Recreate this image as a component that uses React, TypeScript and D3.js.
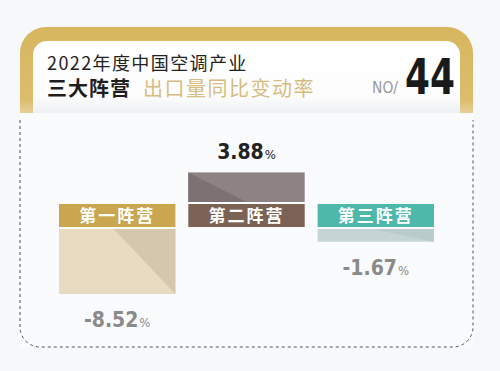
import React from 'react';
import * as d3 from 'd3';

const categories = ['第一阵营', '第二阵营', '第三阵营'];
const values = [-8.52, 3.88, -1.67];
const valueTexts = ['-8.52', '3.88', '-1.67'];
const titleLine1 = '2022年度中国空调产业';
const titleBold = '三大阵营';
const titleGold = '出口量同比变动率';
const issuePrefix = 'NO/';
const issueNo = '44';

const labelColors = ['#c9a64f', '#7a6255', '#4eb8aa'];
const barColors = ['#e8dbc1', '#8e8284', '#c5d5d6'];
const shadeColors = ['#d4c7ad', '#7e7173', '#bacbcc'];
const valueColors = ['#8a8a8a', '#222222', '#8a8a8a'];

const W = 500;
const H = 371;

function topRounded(x0: number, y0: number, x1: number, y1: number, r: number) {
  const p = d3.path();
  p.moveTo(x0, y1);
  p.lineTo(x0, y0 + r);
  p.arcTo(x0, y0, x0 + r, y0, r);
  p.lineTo(x1 - r, y0);
  p.arcTo(x1, y0, x1, y0 + r, r);
  p.lineTo(x1, y1);
  p.closePath();
  return p.toString();
}

function bottomRoundedOpen(x0: number, y0: number, x1: number, y1: number, r: number) {
  const p = d3.path();
  p.moveTo(x0, y0);
  p.lineTo(x0, y1 - r);
  p.arcTo(x0, y1, x0 + r, y1, r);
  p.lineTo(x1 - r, y1);
  p.arcTo(x1, y1, x1, y1 - r, r);
  p.lineTo(x1, y0);
  return p.toString();
}

export default function App() {
  const x = d3.scaleBand<string>().domain(categories).range([59, 434]).paddingInner(0.1);
  const h = d3.scaleLinear().domain([0, 8.52]).range([0, 65]);
  const labelTop = 204;
  const labelH = 23;
  const posBase = 202;
  const negBase = 229;
  const bw = x.bandwidth();

  const numFont = "'DejaVu Sans Condensed', 'DejaVu Sans', sans-serif";
  const cjk = "'Noto Sans CJK SC', sans-serif";

  return (
    <div style={{ position: 'fixed', left: 0, top: 0 }}>
      <svg width={W} height={H} style={{ display: 'block' }}>
        <defs>
          <linearGradient id="gold" x1="0" y1="0" x2="0" y2="1">
            <stop offset="0" stopColor="#d7b65f" />
            <stop offset="0.85" stopColor="#dbbd6c" />
            <stop offset="1" stopColor="#e6d09a" />
          </linearGradient>
          <linearGradient id="card" x1="0" y1="0" x2="0" y2="1">
            <stop offset="0" stopColor="#ffffff" />
            <stop offset="0.75" stopColor="#fdfdfd" />
            <stop offset="1" stopColor="#eef0f3" />
          </linearGradient>
        </defs>
        <rect x={0} y={0} width={W} height={H} fill="#f7f8fa" />
        <rect x={20} y={113} width={453} height={234} fill="#fafbfc" />
        {/* gold frame */}
        <path d={topRounded(20, 27, 473, 113, 26)} fill="url(#gold)" />
        <path d={topRounded(33, 41, 460, 113, 14)} fill="url(#card)" />
        {/* dashed panel border */}
        <path
          d={bottomRoundedOpen(20, 120, 473, 347, 20)}
          fill="none"
          stroke="#555"
          strokeWidth={1}
          strokeDasharray="3 3"
        />
        {/* title */}
        <text x={47} y={70} fontFamily={cjk} fontSize={18} letterSpacing={1.4} fill="#222">
          {titleLine1}
        </text>
        <text x={47} y={96} fontFamily={cjk} fontSize={20} fontWeight={700} letterSpacing={1} fill="#1e1e1e">
          {titleBold}
        </text>
        <text x={143} y={96} fontFamily={cjk} fontSize={20} letterSpacing={1.5} fill="#d6bc80">
          {titleGold}
        </text>
        <text x={372} y={93} fontFamily={numFont} fontSize={15} fill="#9a9a9a" textLength={26} lengthAdjust="spacingAndGlyphs">
          {issuePrefix}
        </text>
        <text x={405} y={94} fontFamily={numFont} fontSize={49} fontWeight={700} fill="#1a1a1a" textLength={50} lengthAdjust="spacingAndGlyphs">
          {issueNo}
        </text>
        {/* bars */}
        {categories.map((c, i) => {
          const v = values[i];
          const x0 = x(c) as number;
          const bh = h(Math.abs(v));
          const top = v >= 0 ? posBase - bh : negBase;
          const bottom = v >= 0 ? posBase : negBase + bh;
          let tri: string;
          if (v >= 0) {
            tri = `${x0},${top} ${x0},${bottom} ${x0 + bw * 0.5},${bottom}`;
          } else {
            tri = `${x0 + bw * 0.47},${top} ${x0 + bw},${top} ${x0 + bw},${bottom}`;
          }
          const cx = x0 + bw / 2;
          const ty = v >= 0 ? top - 13 : bottom + 33;
          return (
            <g key={c}>
              <rect x={x0} y={top} width={bw} height={bottom - top} fill={barColors[i]} />
              <polygon points={tri} fill={shadeColors[i]} />
              <rect x={x0} y={labelTop} width={bw} height={labelH} fill={labelColors[i]} />
              <text
                x={cx}
                y={labelTop + 18}
                textAnchor="middle"
                fontFamily={cjk}
                fontSize={17}
                fontWeight={600}
                letterSpacing={2}
                fill="#ffffff"
              >
                {c}
              </text>
              <text x={cx} y={ty} textAnchor="middle" fontFamily={numFont} fill={valueColors[i]}>
                <tspan fontSize={21} fontWeight={700}>{valueTexts[i]}</tspan>
                <tspan fontSize={13} fontWeight={400} dx={1}>%</tspan>
              </text>
            </g>
          );
        })}
      </svg>
    </div>
  );
}
